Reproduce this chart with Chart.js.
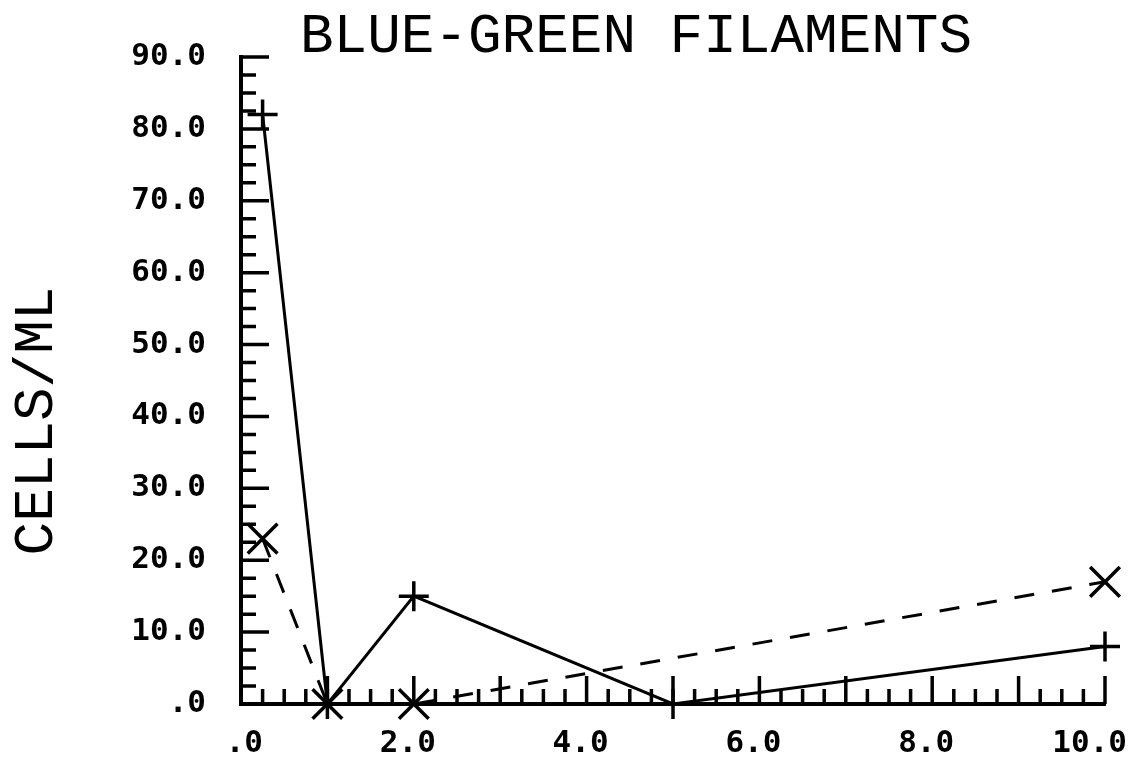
<!DOCTYPE html>
<html><head><meta charset="utf-8">
<script src="https://cdn.jsdelivr.net/npm/chart.js@4.4.1/dist/chart.umd.min.js"></script>
<style>html,body{margin:0;padding:0;background:#fff;overflow:hidden}canvas{display:block}</style>
</head><body>
<canvas id="c" width="1136" height="758"></canvas>
<script>
const chartTitle = 'BLUE-GREEN FILAMENTS';
const yAxisTitle = 'CELLS/ML';
const solidX = [0.25, 1, 2, 5, 10];
const solidY = [82, 0, 15, 0, 8];
const dashedX = [0.25, 1, 2, 10];
const dashedY = [23, 0, 0, 17];
const xTickValues = [0, 2, 4, 6, 8, 10];
const xTickLabels = ['.0', '2.0', '4.0', '6.0', '8.0', '10.0'];
const yTickValues = [0, 10, 20, 30, 40, 50, 60, 70, 80, 90];
const yTickLabels = ['.0', '10.0', '20.0', '30.0', '40.0', '50.0', '60.0', '70.0', '80.0', '90.0'];

const toPoints = (xs, ys) => xs.map((x, i) => ({x: x, y: ys[i]}));

const plotterTicks = {
  id: 'plotterTicks',
  beforeDatasetsDraw(chart) {
    const {ctx, chartArea, scales} = chart;
    const x = scales.x, y = scales.y;
    ctx.save();
    ctx.strokeStyle = '#000';
    ctx.lineWidth = 3.5;
    ctx.beginPath();
    for (let i = 0; i <= 40; i++) {
      const px = x.getPixelForValue(i * 0.25);
      const len = i % 4 === 0 ? 28 : 15;
      ctx.moveTo(px, chartArea.bottom);
      ctx.lineTo(px, chartArea.bottom - len);
    }
    for (let i = 0; i <= 36; i++) {
      const py = y.getPixelForValue(i * 2.5);
      const len = i % 4 === 0 ? 28 : 15;
      ctx.moveTo(chartArea.left, py);
      ctx.lineTo(chartArea.left + len, py);
    }
    ctx.stroke();
    ctx.restore();
  }
};

const plotterTitles = {
  id: 'plotterTitles',
  afterDraw(chart) {
    const ctx = chart.ctx;
    ctx.save();
    ctx.fillStyle = '#000';
    ctx.font = '56px "Liberation Mono"';
    ctx.textAlign = 'center';
    ctx.textBaseline = 'alphabetic';
    ctx.fillText(chartTitle, 636, 52);
    ctx.translate(52, 421);
    ctx.rotate(-Math.PI / 2);
    ctx.fillText(yAxisTitle, 0, 0);
    ctx.restore();
  }
};

const tickFont = {family: '"DejaVu Sans Mono"', size: 31, weight: 'bold'};

new Chart(document.getElementById('c'), {
  type: 'line',
  data: {
    datasets: [
      {
        data: toPoints(solidX, solidY),
        borderColor: '#000', borderWidth: 3,
        pointStyle: 'cross', pointRadius: 15, pointBorderWidth: 3.5,
        pointBorderColor: '#000', pointBackgroundColor: '#000',
        tension: 0, fill: false, clip: false
      },
      {
        data: toPoints(dashedX, dashedY),
        borderColor: '#000', borderWidth: 3, borderDash: [20, 18],
        pointStyle: 'crossRot', pointRadius: 21, pointBorderWidth: 3.5,
        pointBorderColor: '#000', pointBackgroundColor: '#000',
        tension: 0, fill: false, clip: false
      }
    ]
  },
  options: {
    responsive: false,
    animation: false,
    devicePixelRatio: 1,
    events: [],
    layout: {padding: {top: 57, right: 31, left: 0, bottom: 0}},
    plugins: {legend: {display: false}, tooltip: {enabled: false}, title: {display: false}},
    scales: {
      x: {
        type: 'linear', min: 0, max: 10,
        afterFit: (s) => { s.height = 54; },
        grid: {display: false, drawTicks: false},
        border: {display: true, width: 4, color: '#000'},
        ticks: {
          stepSize: 2, autoSkip: false, maxRotation: 0, align: 'end', labelOffset: 22,
          padding: 21, color: '#000', font: tickFont,
          callback: (v) => { const i = xTickValues.indexOf(v); return i >= 0 ? xTickLabels[i] : ''; }
        }
      },
      y: {
        type: 'linear', min: 0, max: 90,
        afterFit: (s) => { s.width = 241; },
        grid: {display: false, drawTicks: false},
        border: {display: true, width: 4, color: '#000'},
        ticks: {
          stepSize: 10, autoSkip: false, padding: 35, color: '#000', font: tickFont,
          callback: (v) => { const i = yTickValues.indexOf(v); return i >= 0 ? yTickLabels[i] : ''; }
        }
      }
    }
  },
  plugins: [plotterTicks, plotterTitles]
});
</script>
</body></html>
